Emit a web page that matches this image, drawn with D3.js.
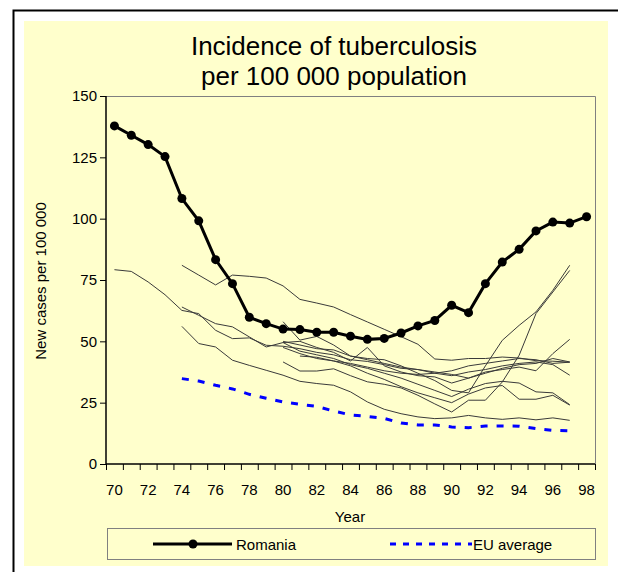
<!DOCTYPE html>
<html>
<head>
<meta charset="utf-8">
<script src="https://cdnjs.cloudflare.com/ajax/libs/d3/7.8.5/d3.min.js"></script>
<style>
body { margin: 0; background: #fff; }
text { font-family: "Liberation Sans", Arial, sans-serif; fill: #000; }
</style>
</head>
<body>
<div id="chart"></div>
<script>
//Data
var years = d3.range(70, 99);
var tickLabels = [70, 72, 74, 76, 78, 80, 82, 84, 86, 88, 90, 92, 94, 96, 98];
var yTicks = [0, 25, 50, 75, 100, 125, 150];

var romania = [137.8, 134.0, 130.2, 125.3, 108.2, 99.1, 83.3, 73.5, 59.8, 57.2,
    55.0, 54.8, 53.7, 53.7, 52.1, 50.8, 51.2, 53.4, 56.3, 58.5,
    64.7, 61.7, 73.5, 82.3, 87.5, 95.0, 98.6, 98.2, 100.8];

var euStart = 74;
var euAverage = [34.8, 33.8, 32.1, 30.6, 28.4, 26.8, 25.3, 24.3, 23.5, 21.6,
    20.0, 19.4, 18.6, 16.7, 15.9, 15.9, 15.1, 14.8, 15.5, 15.5, 15.4, 14.4, 13.7, 13.5];

// other countries, thin lines: first year + values
var countryStarts = [70, 74, 74, 74, 80, 80, 80, 80, 80, 81];
var countryValues = [
    [79.2, 78.5, 74.2, 69.0, 62.6, 61.3, 54.5, 51.1, 51.4, 48.4, 48.0, 47.0, 45.5, 44.5,
        42.5, 41.8, 40.5, 39.0, 38.5, 37.5, 36.5, 35.0, 37.0, 39.0, 40.5, 41.0, 43.0, 41.6],
    [81.0, 77.0, 73.0, 77.0, 76.5, 75.8, 72.6, 67.1, 65.6, 64.0, 60.9, 57.9, 54.9, 51.9,
        48.8, 42.8, 42.3, 43.0, 43.0, 43.6, 43.2, 42.1, 41.9, 41.5],
    [64.0, 60.6, 57.2, 55.9, 51.8, 47.7, 49.5, 50.0, 47.5, 45.5, 42.0, 47.5, 40.0, 37.5,
        36.0, 35.5, 33.0, 35.0, 37.5, 38.5, 39.5, 38.0, 45.0, 50.8],
    [56.1, 49.1, 47.7, 42.3, 40.2, 38.2, 36.2, 33.7, 32.8, 32.1, 29.4, 25.3, 22.3, 20.5,
        19.2, 18.5, 18.8, 19.8, 18.8, 18.2, 18.8, 18.0, 18.8, 17.8],
    [58.0, 50.5, 52.0, 48.5, 44.0, 43.0, 42.5, 40.0, 37.0, 34.0, 30.0, 29.0, 40.0, 50.4,
        56.5, 62.0, 70.8, 81.0],
    [41.6, 37.9, 37.9, 38.8, 36.0, 33.5, 32.5, 31.0, 28.0, 24.5, 21.2, 26.0, 26.0, 33.4,
        44.3, 61.3, 70.1, 78.9],
    [49.5, 46.0, 44.5, 43.0, 40.5, 39.0, 37.0, 35.0, 32.5, 30.0, 27.5, 30.5, 32.8, 33.7,
        33.0, 29.4, 29.0, 24.2],
    [47.5, 45.0, 43.0, 42.0, 40.0, 37.0, 34.5, 31.5, 29.0, 27.0, 25.0, 28.5, 31.0, 32.0,
        26.4, 26.4, 28.0, 24.0],
    [50.0, 48.5, 47.0, 46.5, 44.0, 42.5, 41.0, 39.5, 38.5, 37.0, 36.0, 37.5, 38.5, 40.0,
        41.0, 41.6, 40.5, 36.2],
    [44.0, 43.5, 42.0, 41.0, 39.5, 38.0, 37.0, 36.5, 37.0, 38.0, 40.0, 41.0, 42.0, 43.0,
        42.5, 41.0, 41.5]
];

//Width and height
var w = 618;
var h = 572;
var plotLeft = 106, plotRight = 595, plotTop = 96, plotBottom = 464;

var svg = d3.select("#chart")
    .append("svg")
    .attr("width", w)
    .attr("height", h);

//Frame and background
svg.append("rect")
    .attr("x", 24).attr("y", 21)
    .attr("width", 584).attr("height", 545)
    .attr("fill", "#ffffcc");

svg.append("path")
    .attr("d", "M13.5,572V10.5H618")
    .attr("fill", "none")
    .attr("stroke", "#000")
    .attr("stroke-width", 2);

//Create scale functions
var xScale = d3.scaleBand()
    .domain(years)
    .range([plotLeft, plotRight]);

var yScale = d3.scaleLinear()
    .domain([0, 150])
    .range([plotBottom, plotTop]);

function cx(yr) { return xScale(yr) + xScale.bandwidth() / 2; }

//Plot area border (top and right)
svg.append("path")
    .attr("d", "M" + plotLeft + "," + (plotTop + 0.5) + "H" + (plotRight + 0.5) + "V" + plotBottom)
    .attr("fill", "none")
    .attr("stroke", "#808080")
    .attr("stroke-width", 1);

//Define axes
var xAxis = d3.axisBottom()
    .scale(d3.scaleLinear().domain([0, years.length]).range([plotLeft, plotRight]))
    .tickValues(d3.range(0, years.length + 1))
    .tickSize(6)
    .tickFormat("");

var yAxis = d3.axisLeft()
    .scale(yScale)
    .tickValues(yTicks)
    .tickSize(6)
    .tickPadding(3);

var gx = svg.append("g")
    .attr("transform", "translate(0," + plotBottom + ")")
    .call(xAxis);

var gy = svg.append("g")
    .attr("transform", "translate(" + plotLeft + ",0)")
    .call(yAxis);

svg.selectAll(".domain").attr("stroke", "#000").attr("stroke-width", 1.5);
svg.selectAll(".tick line").attr("stroke", "#000");
gy.selectAll("text")
    .attr("font-size", 15)
    .attr("font-family", "Liberation Sans, Arial, sans-serif");
gx.select(".domain").attr("d", "M" + plotLeft + ",0H" + plotRight);
gy.select(".domain").attr("d", "M0," + plotBottom + "V" + plotTop);

//X tick labels on every second year
svg.selectAll(".xlab")
    .data(tickLabels)
    .enter()
    .append("text")
    .attr("class", "xlab")
    .attr("x", function (d) { return cx(d); })
    .attr("y", plotBottom + 31)
    .attr("text-anchor", "middle")
    .attr("font-size", 15)
    .text(function (d) { return d; });

//Thin country lines
var line = d3.line()
    .x(function (d) { return cx(d[0]); })
    .y(function (d) { return yScale(d[1]); });

var countries = countryValues.map(function (vals, i) {
    return vals.map(function (v, j) { return [countryStarts[i] + j, v]; });
});

svg.selectAll(".country")
    .data(countries)
    .enter()
    .append("path")
    .attr("class", "country")
    .attr("d", line)
    .attr("fill", "none")
    .attr("stroke", "#3a3a3a")
    .attr("stroke-width", 1);

//EU average
var euData = euAverage.map(function (v, i) { return [euStart + i, v]; });
svg.append("path")
    .attr("d", line(euData))
    .attr("fill", "none")
    .attr("stroke", "#0000ff")
    .attr("stroke-width", 3)
    .attr("stroke-dasharray", "7,9");

//Romania
var roData = romania.map(function (v, i) { return [years[i], v]; });
svg.append("path")
    .attr("d", line(roData))
    .attr("fill", "none")
    .attr("stroke", "#000")
    .attr("stroke-width", 3);

svg.selectAll(".ro")
    .data(roData)
    .enter()
    .append("circle")
    .attr("class", "ro")
    .attr("cx", function (d) { return cx(d[0]); })
    .attr("cy", function (d) { return yScale(d[1]); })
    .attr("r", 4.5)
    .attr("fill", "#000");

//Titles
svg.append("text")
    .attr("x", 334).attr("y", 55)
    .attr("text-anchor", "middle")
    .attr("font-size", 26)
    .text("Incidence of tuberculosis");

svg.append("text")
    .attr("x", 334).attr("y", 85)
    .attr("text-anchor", "middle")
    .attr("font-size", 26)
    .text("per 100 000 population");

svg.append("text")
    .attr("x", 350).attr("y", 522)
    .attr("text-anchor", "middle")
    .attr("font-size", 15)
    .text("Year");

svg.append("text")
    .attr("transform", "translate(46,281) rotate(-90)")
    .attr("text-anchor", "middle")
    .attr("font-size", 15)
    .text("New cases per 100 000");

//Legend
var legend = svg.append("g");
legend.append("rect")
    .attr("x", 107.5).attr("y", 528.5)
    .attr("width", 488).attr("height", 31)
    .attr("fill", "none")
    .attr("stroke", "#808080")
    .attr("stroke-width", 1);

legend.append("line")
    .attr("x1", 153).attr("x2", 232).attr("y1", 544).attr("y2", 544)
    .attr("stroke", "#000").attr("stroke-width", 3);
legend.append("circle")
    .attr("cx", 193).attr("cy", 544).attr("r", 4.5).attr("fill", "#000");
legend.append("text")
    .attr("x", 236).attr("y", 550)
    .attr("font-size", 15)
    .text("Romania");

legend.append("line")
    .attr("x1", 390).attr("x2", 472).attr("y1", 544).attr("y2", 544)
    .attr("stroke", "#0000ff").attr("stroke-width", 3)
    .attr("stroke-dasharray", "6,7");
legend.append("text")
    .attr("x", 473).attr("y", 550)
    .attr("font-size", 15)
    .text("EU average");
</script>
</body>
</html>
